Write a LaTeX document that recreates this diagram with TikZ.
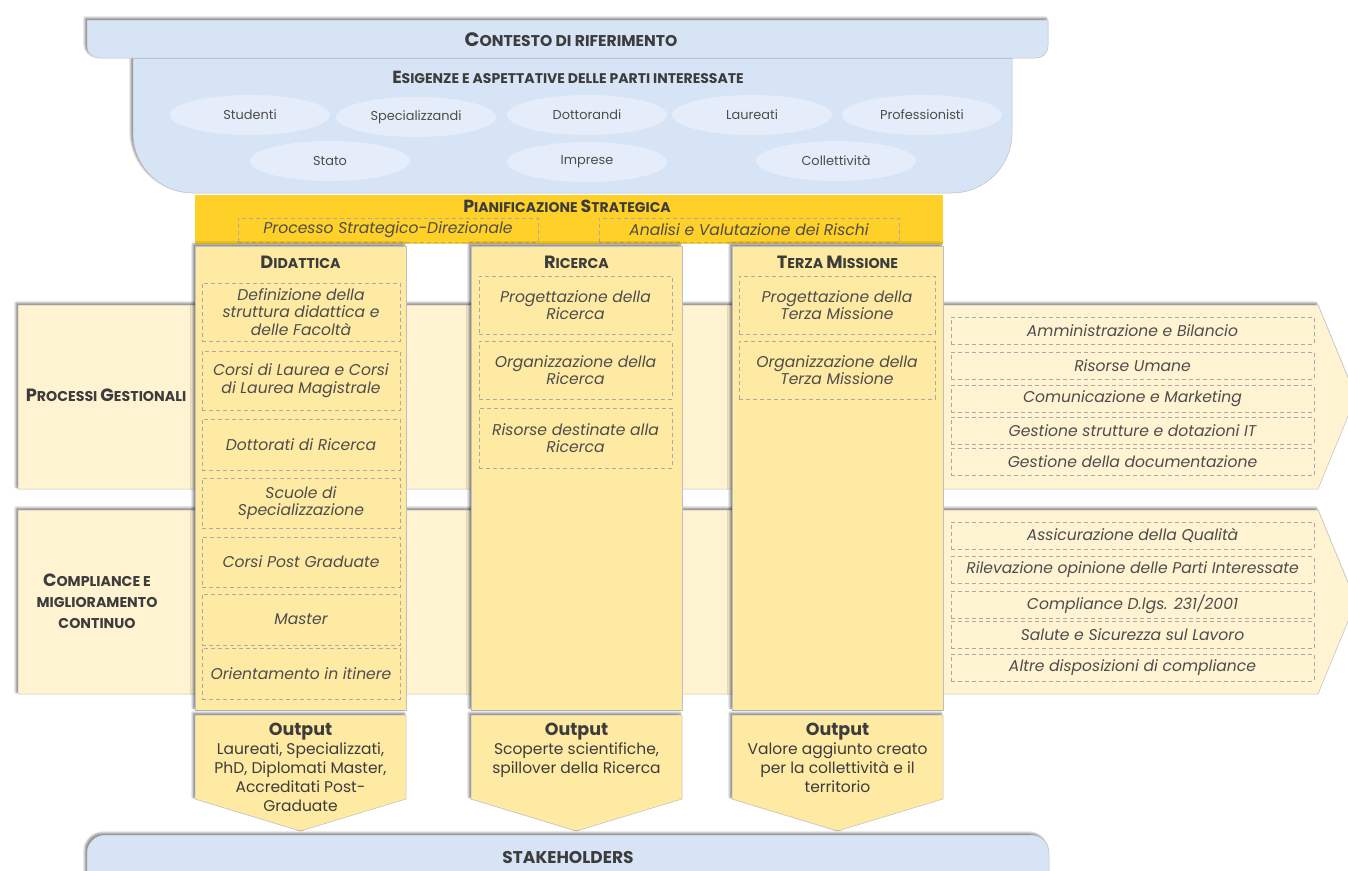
\documentclass[tikz,border=0pt]{standalone}
\usepackage{fontspec}
\setmainfont{Poppins}
\usepackage{graphicx}
\usepackage{tikz}
\usetikzlibrary{positioning, shapes.geometric, shadows.blur}
\definecolor{cblue}{HTML}{D6E4F5}
\definecolor{cpale}{HTML}{E4EDF9}
\definecolor{cgold}{HTML}{FFD027}
\definecolor{ccol}{HTML}{FFEAA3}
\definecolor{cband}{HTML}{FFF3D2}
\definecolor{cdash}{HTML}{A9A9A9}
\definecolor{cedge}{HTML}{BFBFBF}
\definecolor{cdark}{HTML}{3C3C3C}
\definecolor{ctext}{HTML}{4D4D4D}
\newcommand{\ini}[1]{\scalebox{1.25}{#1}}
\tikzset{
  lift/.style={blur shadow={shadow xshift=-2pt, shadow yshift=2pt, shadow blur steps=8, shadow opacity=50}},
  ttl/.style={font=\bfseries\fontsize{14.2}{16}\selectfont, text=cdark, align=center},
  dbox/.style={draw=cdash, dash pattern=on 4pt off 3pt, line width=0.6pt, inner sep=0pt,
    align=center, text=ctext, font=\itshape\fontsize{15.6}{17.5}\selectfont},
  party/.style={ellipse, fill=cpale, minimum width=160pt, minimum height=40pt, inner sep=0pt,
    text=ctext, font=\fontsize{12.9}{14}\selectfont},
  panel/.style={fill=cblue, draw=cedge, line width=0.5pt, lift},
  pillar/.style={fill=ccol, draw=cedge, line width=0.5pt, lift},
  lane/.style={fill=cband, draw=cedge, line width=0.5pt, lift},
  outtxt/.style={anchor=north, align=center, text=cdark, font=\fontsize{15.5}{19.2}\selectfont},
}

\begin{document}
\begin{tikzpicture}[x=1pt, y=-1pt]
\useasboundingbox (0,0) rectangle (1348,870);

% lanes running behind the pillars
\draw[lane] (18,305) -- (1318,305) -- (1356,397) -- (1318,489) -- (18,489) -- cycle;
\draw[lane] (18,510) -- (1318,510) -- (1356,602) -- (1318,694) -- (18,694) -- cycle;
\node[ttl] (gest) at (106,395) {\ini{P}ROCESSI \ini{G}ESTIONALI};
\node[ttl, font=\bfseries\fontsize{14.2}{21}\selectfont] (comp) at (97,601) {\ini{C}OMPLIANCE E\\MIGLIORAMENTO\\CONTINUO};

% context and stakeholder needs
\draw[panel] (133,58) -- (1012,58) -- (1012,133) .. controls (1012,166) and (985,193) .. (952,193)
  -- (193,193) .. controls (160,193) and (133,166) .. (133,133) -- cycle;
\draw[panel] (87,20) -- (1048,20) -- (1048,46) .. controls (1048,53) and (1043,58) .. (1036,58)
  -- (99,58) .. controls (92,58) and (87,53) .. (87,46) -- cycle;
\node[ttl, font=\bfseries\fontsize{15.6}{17}\selectfont] (ctx) at (571,40) {\ini{C}ONTESTO DI RIFERIMENTO};
\node[ttl, font=\bfseries\fontsize{14}{15}\selectfont] (needs) at (568,77) {\ini{E}SIGENZE E ASPETTATIVE DELLE PARTI INTERESSATE};

\foreach \n/\xc/\yc/\t in {stud/250/115/Studenti, spec/416/117/Specializzandi, dott/587/115/Dottorandi,
  laur/752/115/Laureati, prof/922/115/Professionisti,
  stato/330/161/Stato, impr/587/162/Imprese, coll/836/161/Collettività}
  \node[party] (\n) at (\xc,\yc) {\t};

% strategic planning
\fill[cgold] (195,195) rectangle (943,244);
\node[ttl, font=\bfseries\fontsize{14}{15}\selectfont] (plan) at (567,206) {\ini{P}IANIFICAZIONE \ini{S}TRATEGICA};
\node[dbox, minimum width=300pt, minimum height=24pt] (psd) at (388,230) {Processo Strategico-Direzionale};
\node[dbox, minimum width=300pt, minimum height=24pt] (avr) at (749,230) {Analisi e Valutazione dei Rischi};

% the three pillars
\draw[pillar] (195,246) rectangle (406,710);
\draw[pillar] (471,246) rectangle (682,710);
\draw[pillar] (732,246) rectangle (943,710);
\node[ttl] (did) at (300.5,262) {\ini{D}IDATTICA};
\node[ttl] (ric) at (576.5,262) {\ini{R}ICERCA};
\node[ttl] (ter) at (837.5,262) {\ini{T}ERZA \ini{M}ISSIONE};

\node[dbox, minimum width=198pt, minimum height=58pt] (did1) at (301,312) {Definizione della\\struttura didattica e\\delle Facoltà};
\node[dbox, minimum width=198pt, minimum height=59pt] (did2) at (301,380.5) {Corsi di Laurea e Corsi\\di Laurea Magistrale};
\node[dbox, minimum width=198pt, minimum height=51pt] (did3) at (301,444.5) {Dottorati di Ricerca};
\node[dbox, minimum width=198pt, minimum height=50pt] (did4) at (301,503) {Scuole di\\Specializzazione};
\node[dbox, minimum width=198pt, minimum height=50pt] (did5) at (301,562) {Corsi Post Graduate};
\node[dbox, minimum width=198pt, minimum height=51pt] (did6) at (301,619.5) {Master};
\node[dbox, minimum width=198pt, minimum height=51pt] (did7) at (301,673.5) {Orientamento in itinere};

\node[dbox, minimum width=193pt, minimum height=58pt] (ric1) at (575.5,305) {Progettazione della\\Ricerca};
\node[dbox, minimum width=193pt, minimum height=58pt] (ric2) at (575.5,370) {Organizzazione della\\Ricerca};
\node[dbox, minimum width=193pt, minimum height=60pt] (ric3) at (575.5,438) {Risorse destinate alla\\Ricerca};

\node[dbox, minimum width=196pt, minimum height=58pt] (ter1) at (837,305) {Progettazione della\\Terza Missione};
\node[dbox, minimum width=196pt, minimum height=58pt] (ter2) at (837,370) {Organizzazione della\\Terza Missione};

% support processes on the lanes
\foreach \i/\yc/\t in {1/330.5/Amministrazione e Bilancio, 2/365.5/Risorse Umane,
  3/399/Comunicazione e Marketing, 4/430.5/Gestione strutture e dotazioni IT,
  5/462/Gestione della documentazione}
  \node[dbox, minimum width=363pt, minimum height=27pt] (gst\i) at (1132.5,\yc) {\t};
\foreach \i/\yc/\t in {1/535.5/Assicurazione della Qualità, 2/570/Rilevazione opinione delle Parti Interessate,
  3/604.5/{Compliance D.lgs. 231/2001}, 4/635/Salute e Sicurezza sul Lavoro,
  5/667.5/Altre disposizioni di compliance}
  \node[dbox, minimum width=363pt, minimum height=27pt] (cmp\i) at (1132.5,\yc) {\t};

% outputs
\draw[pillar] (195,715) -- (406,715) -- (406,799) -- (300.5,831) -- (195,799) -- cycle;
\draw[pillar] (471,715) -- (682,715) -- (682,799) -- (576.5,831) -- (471,799) -- cycle;
\draw[pillar] (732,715) -- (943,715) -- (943,799) -- (837.5,831) -- (732,799) -- cycle;
\node[outtxt] (outdid) at (300.5,719) {{\bfseries\fontsize{17.5}{19}\selectfont Output}\\Laureati, Specializzati,\\PhD, Diplomati Master,\\Accreditati Post-\\Graduate};
\node[outtxt] (outric) at (576.5,719) {{\bfseries\fontsize{17.5}{19}\selectfont Output}\\Scoperte scientifiche,\\spillover della Ricerca};
\node[outtxt] (outter) at (837.5,719) {{\bfseries\fontsize{17.5}{19}\selectfont Output}\\Valore aggiunto creato\\per la collettività e il\\territorio};

% stakeholders
\draw[panel] (87,885) -- (87,853) .. controls (87,843) and (95,835) .. (105,835) -- (1031,835)
  .. controls (1041,835) and (1049,843) .. (1049,853) -- (1049,885) -- cycle;
\node[ttl, font=\bfseries\fontsize{17}{18}\selectfont] (stk) at (568,857) {STAKEHOLDERS};

\end{tikzpicture}
\end{document}
